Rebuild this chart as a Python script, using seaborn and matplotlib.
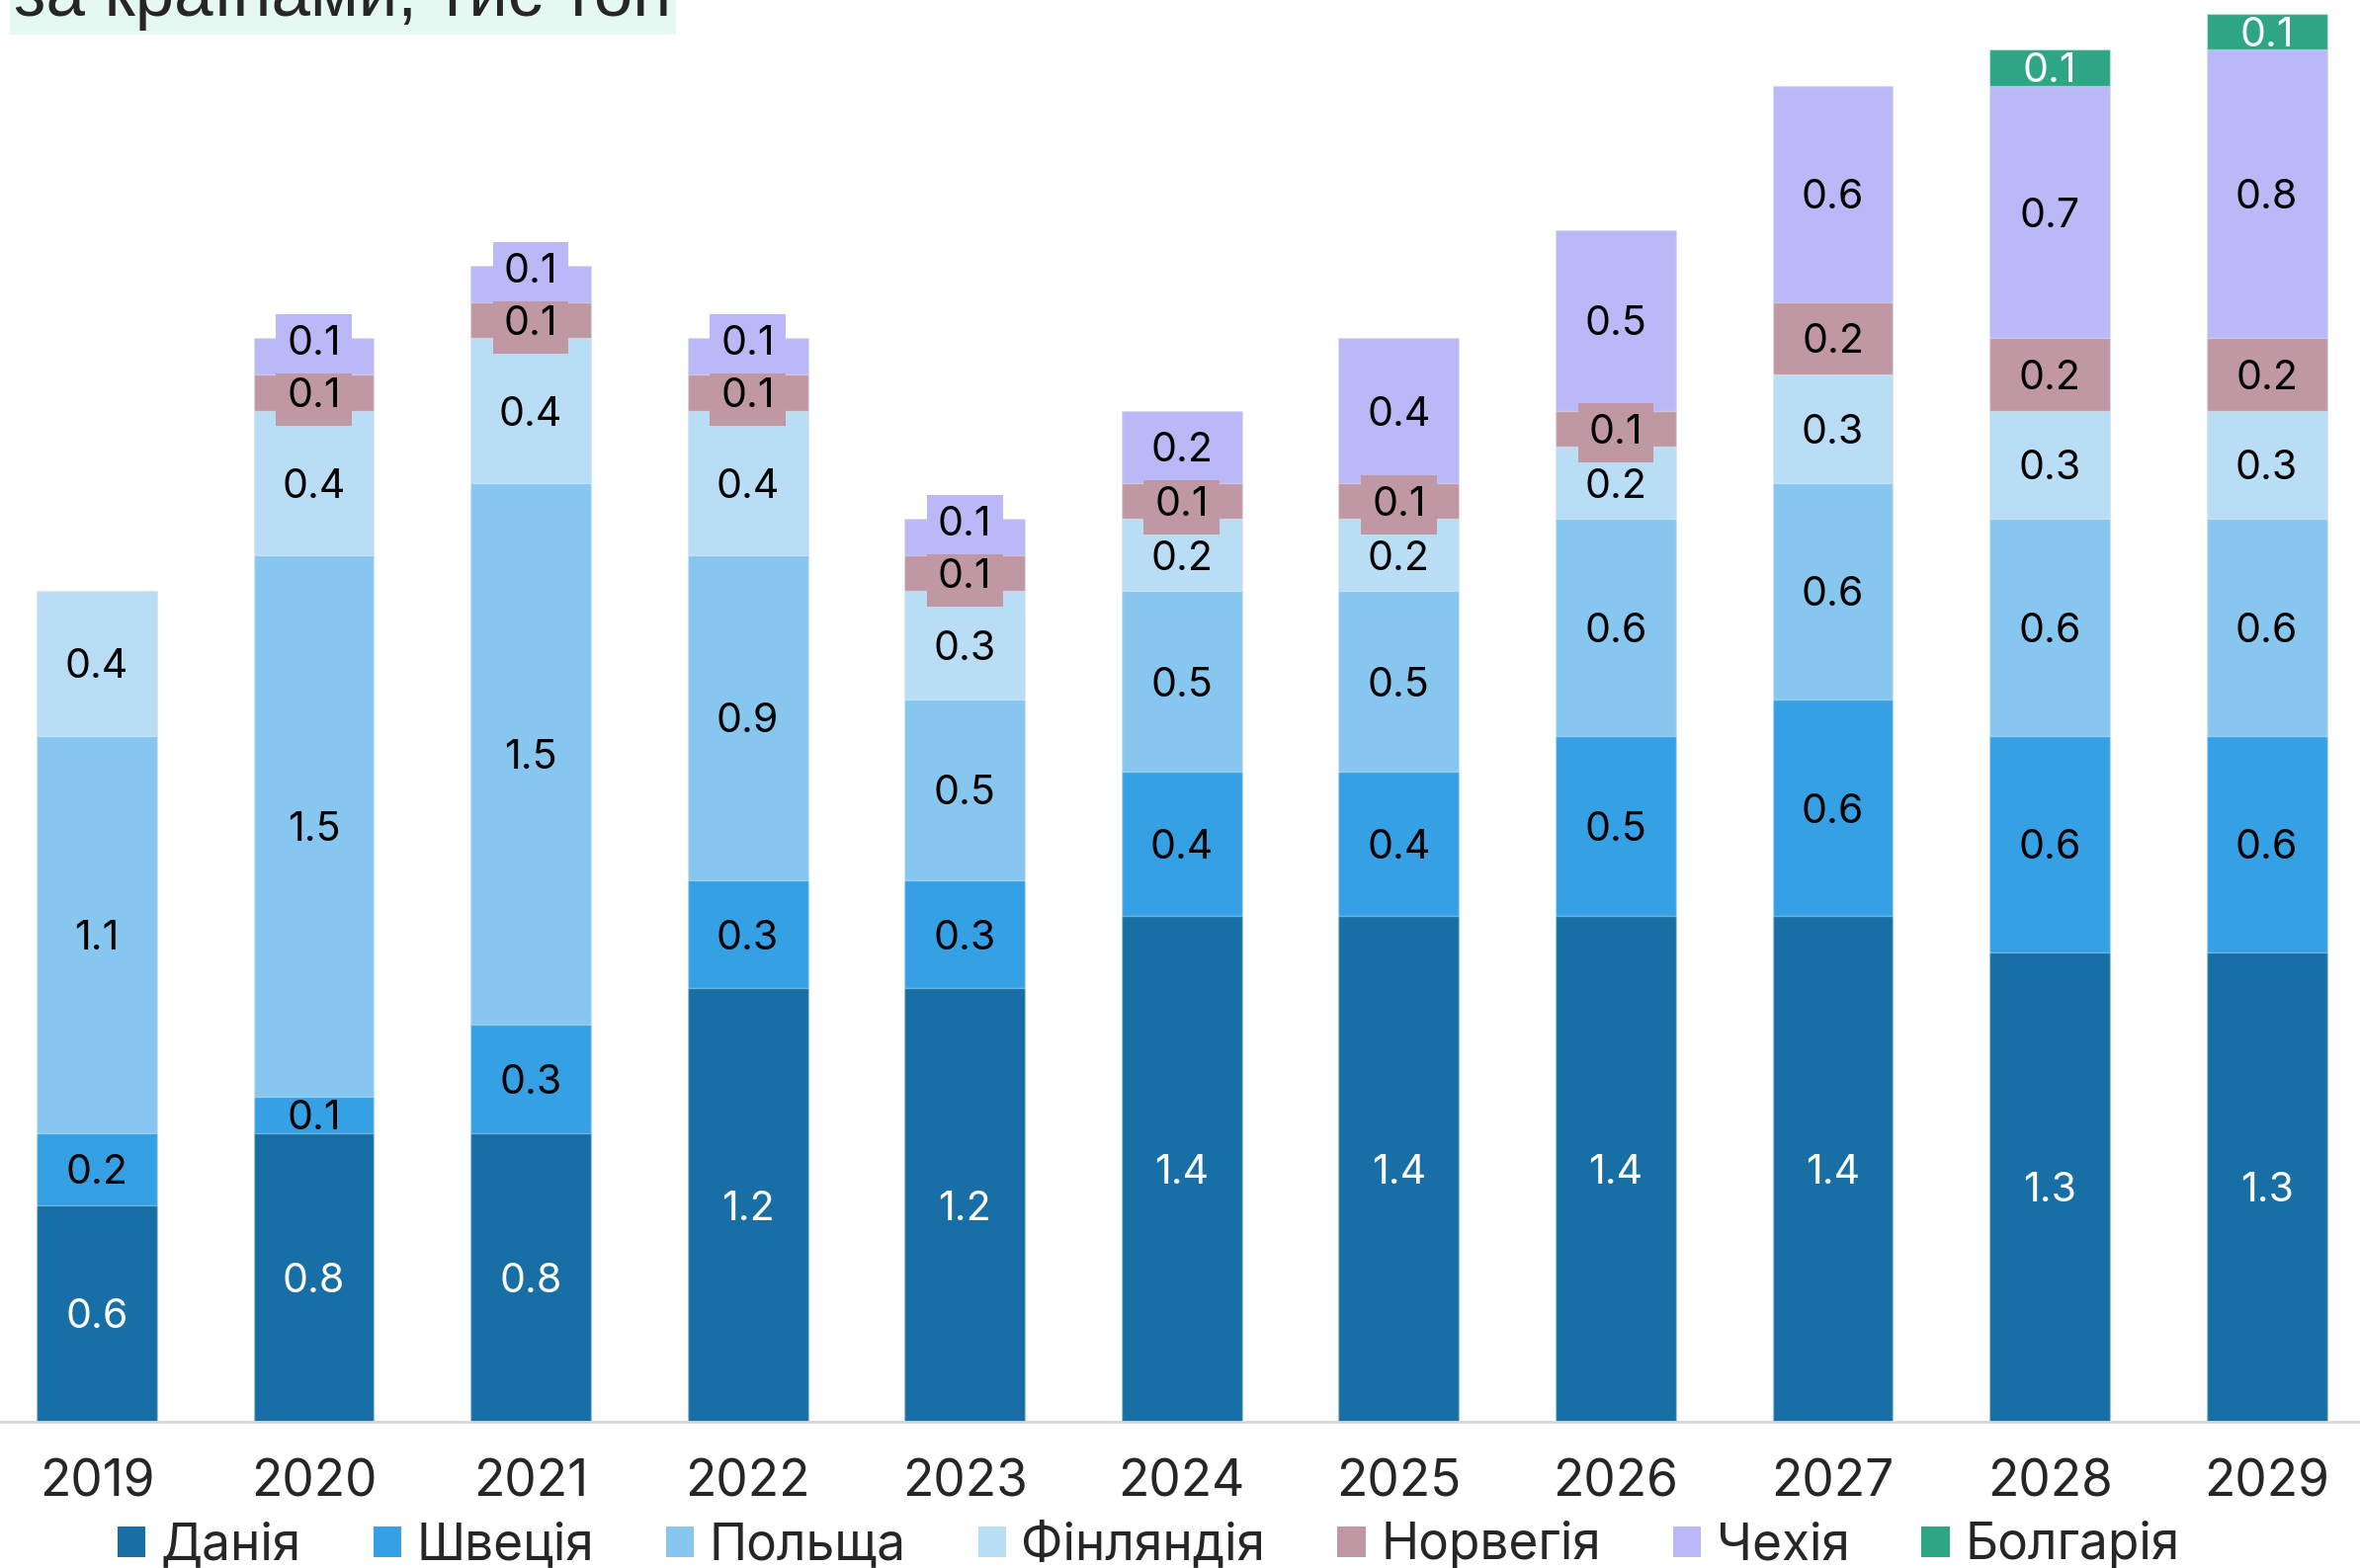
"""
Stacked bar chart by country (thousand tonnes), 2019-2029.
"""
import numpy as np
import seaborn as sns
import matplotlib.pyplot as plt
from matplotlib.patches import Patch


# Data
years = ['2019', '2020', '2021', '2022', '2023', '2024', '2025', '2026', '2027', '2028', '2029']
denmark = [0.6, 0.8, 0.8, 1.2, 1.2, 1.4, 1.4, 1.4, 1.4, 1.3, 1.3]
sweden = [0.2, 0.1, 0.3, 0.3, 0.3, 0.4, 0.4, 0.5, 0.6, 0.6, 0.6]
poland = [1.1, 1.5, 1.5, 0.9, 0.5, 0.5, 0.5, 0.6, 0.6, 0.6, 0.6]
finland = [0.4, 0.4, 0.4, 0.4, 0.3, 0.2, 0.2, 0.2, 0.3, 0.3, 0.3]
norway = [0.0, 0.1, 0.1, 0.1, 0.1, 0.1, 0.1, 0.1, 0.2, 0.2, 0.2]
czechia = [0.0, 0.1, 0.1, 0.1, 0.1, 0.2, 0.4, 0.5, 0.6, 0.7, 0.8]
bulgaria = [0.0, 0.0, 0.0, 0.0, 0.0, 0.0, 0.0, 0.0, 0.0, 0.1, 0.1]

countries = ['Данія', 'Швеція', 'Польща', 'Фінляндія', 'Норвегія', 'Чехія', 'Болгарія']
series = [denmark, sweden, poland, finland, norway, czechia, bulgaria]
colors = ['#176fa6', '#35a1e4', '#87c6ef', '#b8ddf5', '#bf98a4', '#bab8f6', '#2ea585']
label_colors = ['white', 'black', 'black', 'black', 'black', 'black', 'white']
# only the small top layers get a padded label box in the original
boxed = [False, False, False, False, True, True, False]


def chart():
    sns.set_theme(style='white')
    plt.rcParams['font.family'] = ['Inter', 'DejaVu Sans']

    fig = plt.figure(figsize=(23.88, 15.87), dpi=100)
    ax = fig.add_axes([0, 148 / 1587, 1, 1439 / 1587])

    values = np.array(series)
    tops = np.cumsum(values, axis=0)
    bottoms = tops - values

    # draw cumulative totals from the top layer down so lower layers sit on top
    for k in range(len(series) - 1, -1, -1):
        sns.barplot(x=years, y=tops[k], color=colors[k], saturation=1,
                    width=0.555, errorbar=None, ax=ax,
                    edgecolor=(1, 1, 1, 0.35), linewidth=1)

    # segment labels; push a label up if it would overlap the one below it
    min_gap = 0.145
    for j in range(len(years)):
        prev = None
        for k, vals in enumerate(series):
            v = vals[j]
            if v <= 0:
                continue
            y = bottoms[k][j] + v / 2
            if prev is not None and y < prev + min_gap and boxed[k]:
                y = prev + min_gap
            prev = y
            box = None
            if boxed[k]:
                box = dict(boxstyle='square,pad=0.27', facecolor=colors[k], edgecolor='none')
            ax.text(j, y, f'{v:.1f}', ha='center', va='center_baseline',
                    fontsize=29.5, color=label_colors[k], zorder=5, bbox=box)

    ax.set_xlim(-0.446, 10.43)
    ax.set_ylim(0, 3.937)
    ax.set_yticks([])
    ax.set_xlabel('')
    ax.set_ylabel('')
    ax.tick_params(axis='x', length=0, pad=27, labelsize=37)
    for side in ['top', 'right', 'left']:
        ax.spines[side].set_visible(False)
    ax.spines['bottom'].set_color('#d6d6d6')
    ax.spines['bottom'].set_linewidth(2)

    # title, mostly cut off at the top edge
    fig.text(14 / 2388, 1 - 16 / 1587, 'за країнами, тис тон', fontsize=51,
             family=['Liberation Sans', 'DejaVu Sans'], va='baseline', ha='left',
             bbox=dict(boxstyle='square,pad=0.06', facecolor='#e6f8f2', edgecolor='none'))

    handles = [Patch(facecolor=c, edgecolor='none') for c in colors]
    fig.legend(handles, countries, loc='center', bbox_to_anchor=(0.4866, 22 / 1587),
               ncol=7, frameon=False, fontsize=37, handlelength=0.55, handleheight=0.55,
               handletextpad=0.3, columnspacing=1.42, borderpad=0)

    fig.savefig('out.png', dpi=100)


chart()
